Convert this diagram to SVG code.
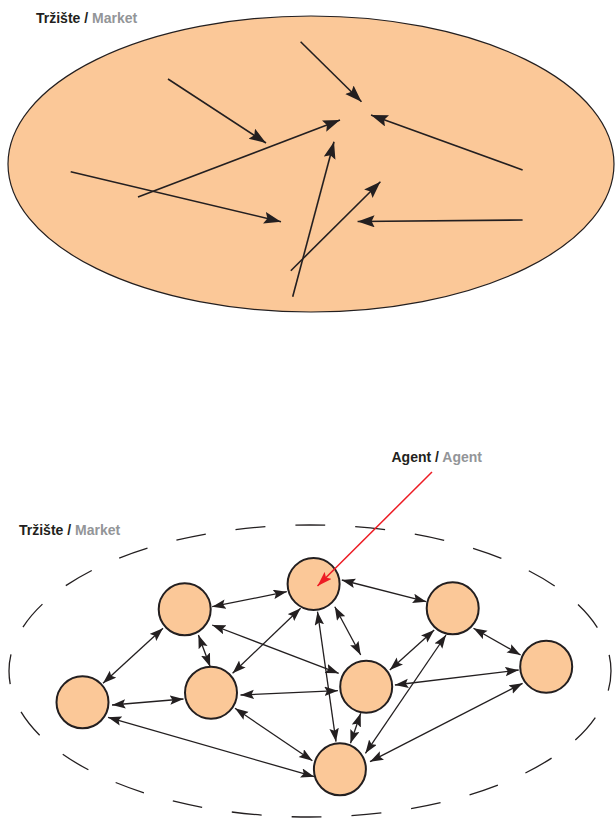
<svg xmlns="http://www.w3.org/2000/svg" width="616" height="819" viewBox="0 0 616 819">
<style>
.lbl{font-family:"Liberation Sans",Arial,sans-serif;font-weight:bold;font-size:14px;fill:#231f20}
.gray{fill:#939598}
.big{fill:none;stroke:#231f20;stroke-width:1.6;marker-end:url(#hbig)}
.con{fill:none;stroke:#231f20;stroke-width:1.3;marker-start:url(#hs);marker-end:url(#hs)}
.node{fill:#fbc898;stroke:#231f20;stroke-width:2}
</style>
<defs>
<marker id="hbig" markerUnits="userSpaceOnUse" markerWidth="18" markerHeight="13" refX="17" refY="6" orient="auto">
<path d="M0,0 L17,6 L0,12 L3,6 z" fill="#231f20"/>
</marker>
<marker id="hs" markerUnits="userSpaceOnUse" markerWidth="14" markerHeight="10" refX="13.5" refY="4.75" orient="auto-start-reverse">
<path d="M0,0 L13.5,4.75 L0,9.5 L2.5,4.75 z" fill="#231f20"/>
</marker>
<marker id="hred" markerUnits="userSpaceOnUse" markerWidth="16" markerHeight="11" refX="15" refY="5" orient="auto">
<path d="M0,0 L15,5 L0,10 L3,5 z" fill="#ed1c24"/>
</marker>
</defs>

<g id="market-top">
<ellipse cx="311" cy="164" rx="303" ry="148" fill="#fbc898" stroke="#231f20" stroke-width="1.2"/>
<text class="lbl" x="36" y="22.5">Tržište / <tspan class="gray">Market</tspan></text>
</g>
<g id="top-arrows">
<line class="big" x1="300.6" y1="41.7" x2="361.5" y2="101.7"/>
<line class="big" x1="168" y1="79" x2="266" y2="143"/>
<line class="big" x1="522.6" y1="170" x2="371" y2="115"/>
<line class="big" x1="138" y1="197" x2="340" y2="120"/>
<line class="big" x1="70.7" y1="171.7" x2="281" y2="221.7"/>
<line class="big" x1="292.7" y1="296.7" x2="334" y2="141.7"/>
<line class="big" x1="290.8" y1="270.7" x2="380.4" y2="181.7"/>
<line class="big" x1="522.6" y1="220" x2="357.6" y2="221.5"/>
</g>

<g id="market-bottom">
<ellipse cx="310" cy="671" rx="301" ry="146" fill="none" stroke="#231f20" stroke-width="1.3" stroke-dasharray="30 30" stroke-dashoffset="10"/>
<text class="lbl" x="19" y="534.5">Tržište / <tspan class="gray">Market</tspan></text>
</g>

<g id="connectors">
<line class="con" x1="212.2" y1="606.7" x2="286.8" y2="591.7"/>
<line class="con" x1="341.8" y1="580" x2="426.3" y2="601.7"/>
<line class="con" x1="163" y1="628.3" x2="103" y2="683.3"/>
<line class="con" x1="198.4" y1="635" x2="210.2" y2="666.7"/>
<line class="con" x1="212.2" y1="625" x2="338.7" y2="673.3"/>
<line class="con" x1="300.6" y1="608.3" x2="232.6" y2="673.3"/>
<line class="con" x1="317.5" y1="611.7" x2="336" y2="741.7"/>
<line class="con" x1="334.8" y1="606.7" x2="360.7" y2="655"/>
<line class="con" x1="434.2" y1="630" x2="389.8" y2="670"/>
<line class="con" x1="446" y1="635" x2="365.4" y2="753.3"/>
<line class="con" x1="473.5" y1="628.3" x2="520.6" y2="655"/>
<line class="con" x1="112" y1="705" x2="183.5" y2="699"/>
<line class="con" x1="240.5" y1="695" x2="337.9" y2="690.7"/>
<line class="con" x1="394.9" y1="685" x2="518.7" y2="670"/>
<line class="con" x1="108" y1="717.3" x2="314.3" y2="776.7"/>
<line class="con" x1="235" y1="708.3" x2="312.4" y2="760.7"/>
<line class="con" x1="522.6" y1="683.3" x2="370" y2="761.7"/>
<line class="con" x1="360.7" y1="713.3" x2="350.5" y2="743.3"/>
</g>

<g id="agent-a"><circle class="node" cx="313.6" cy="584" r="26"/></g>
<g id="agent-b"><circle class="node" cx="184.7" cy="609.3" r="26"/></g>
<g id="agent-c"><circle class="node" cx="452.7" cy="608.3" r="26"/></g>
<g id="agent-d"><circle class="node" cx="82.5" cy="702.3" r="26"/></g>
<g id="agent-e"><circle class="node" cx="211" cy="692.7" r="26"/></g>
<g id="agent-f"><circle class="node" cx="366.2" cy="686.7" r="26"/></g>
<g id="agent-g"><circle class="node" cx="546.2" cy="666.7" r="26"/></g>
<g id="agent-h"><circle class="node" cx="339.9" cy="769.3" r="26"/></g>

<g id="agent-label">
<text class="lbl" x="391.5" y="462">Agent / <tspan class="gray">Agent</tspan></text>
<line x1="432" y1="472" x2="317.5" y2="586" stroke="#ed1c24" stroke-width="1.5" marker-end="url(#hred)"/>
</g>
</svg>
